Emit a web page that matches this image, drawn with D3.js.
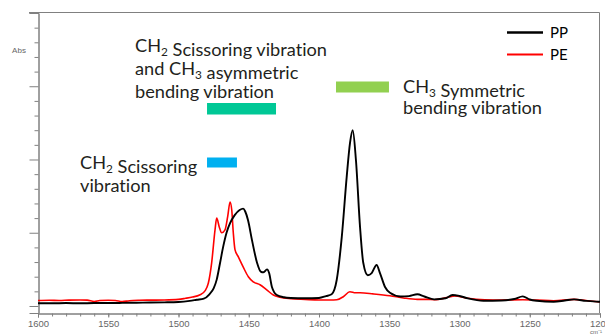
<!DOCTYPE html>
<html><head><meta charset="utf-8">
<script src="https://cdn.jsdelivr.net/npm/d3@7"></script>
<style>body{margin:0;background:#fff}svg{display:block}text{font-variant-ligatures:none;font-feature-settings:"liga" 0,"clig" 0}</style>
</head><body><svg id="c" width="605" height="334"></svg>
<script>
const ppWn = [1600,1590,1580,1570,1560,1550,1540,1530,1520,1510,1500,1492,1487,1482,1478,1475,1472.8,1470.5,1468.3,1465.8,1463.3,1460,1456.5,1454,1452.5,1450.5,1447.7,1444.1,1441.5,1439.5,1437,1435.5,1433.5,1430,1425,1420,1410,1400,1395,1391,1387.4,1383.8,1380.3,1377.9,1376,1373.7,1370.8,1368.5,1365.3,1362.5,1359,1356.6,1353,1349.5,1342,1336,1330,1325,1318,1310,1305,1300,1294,1283,1270,1261,1255,1250,1245,1233,1225,1218.5,1210,1201,1200];
const ppAbs = [0.037,0.037,0.04,0.037,0.04,0.04,0.042,0.045,0.048,0.05,0.055,0.07,0.085,0.1,0.16,0.24,0.36,0.58,0.8,1.0,1.13,1.24,1.31,1.33,1.29,1.17,0.9,0.59,0.47,0.46,0.5,0.45,0.26,0.15,0.12,0.11,0.105,0.11,0.135,0.16,0.355,0.94,1.76,2.23,2.4,1.99,1.08,0.59,0.42,0.45,0.56,0.45,0.26,0.18,0.13,0.135,0.16,0.13,0.09,0.105,0.15,0.137,0.105,0.072,0.076,0.095,0.132,0.089,0.072,0.059,0.075,0.09,0.07,0.059,0.059];
const peWn = [1600,1592,1585,1578,1570,1565,1560,1556,1550,1545,1540,1535,1528,1520,1510,1500,1495,1490,1485,1481,1478.8,1476.4,1474,1472.8,1471,1469.3,1466.9,1465,1463.3,1462.1,1461,1459.8,1457.4,1453.9,1450.3,1446.8,1442,1437.2,1432.5,1427.8,1420,1410,1400,1392,1387.4,1382.7,1378,1374,1370.8,1361.4,1349.5,1340,1330,1323,1318,1308,1303.5,1294,1282,1270,1255,1245,1233,1218.5,1210,1201,1200];
const peAbs = [0.075,0.078,0.075,0.08,0.082,0.08,0.062,0.075,0.078,0.075,0.06,0.072,0.078,0.08,0.082,0.09,0.105,0.123,0.15,0.21,0.31,0.59,1.04,1.2,1.08,1.0,1.04,1.22,1.42,1.31,1.0,0.77,0.67,0.53,0.4,0.33,0.29,0.22,0.15,0.12,0.1,0.09,0.082,0.082,0.085,0.127,0.195,0.18,0.18,0.165,0.14,0.11,0.09,0.09,0.086,0.119,0.137,0.105,0.086,0.082,0.086,0.082,0.072,0.09,0.075,0.059,0.059];
const xMajorTicks = [1600,1550,1500,1450,1400,1350,1300,1250,1200];
const seriesNames = ["PP","PE"];
const seriesColors = ["#000000","#ff0000"];
const bandWn = [[1479.7,1430.6],[1387.9,1350.2],[1479.7,1458.4]];
const bandColors = ["#00c896","#92d050","#00b0f0"];

const svg = d3.select("#c");
const x = d3.scaleLinear().domain([1600,1200]).range([38,600]);
const y = d3.scaleLinear().domain([-0.0956,4]).range([313,13]);
const axisCol = "#808080";

// frame top & right
svg.append("line").attr("x1",29).attr("x2",599.5).attr("y1",12.5).attr("y2",12.5).attr("stroke",axisCol);
svg.append("line").attr("x1",599.5).attr("x2",599.5).attr("y1",12.5).attr("y2",313).attr("stroke",axisCol);

// y axis
const yMajor = [0,1,2,3,4];
const yMinor = d3.range(0,4.001,0.2).filter(v=>Math.abs(v-Math.round(v))>0.01);
const gy = svg.append("g").attr("transform","translate(38.5,0)");
gy.call(d3.axisLeft(y).tickValues(yMinor).tickSize(4).tickFormat(""));
gy.append("g").call(d3.axisLeft(y).tickValues(yMajor).tickSize(9).tickFormat(""));
gy.selectAll("path,line").attr("stroke",axisCol);
svg.append("text").attr("x",19).attr("y",53).attr("text-anchor","middle")
  .attr("font-family","Liberation Sans, Arial, sans-serif").attr("font-size",8).attr("fill","#666").text("Abs");

// x axis
const gx = svg.append("g").attr("transform","translate(0,313.5)");
gx.call(d3.axisBottom(x).tickValues(d3.range(1600,1199,-10)).tickSize(3).tickFormat(""));
const gx2 = gx.append("g").call(d3.axisBottom(x).tickValues(xMajorTicks).tickSize(4).tickPadding(3).tickFormat(d3.format("d")));
gx.selectAll("path,line").attr("stroke",axisCol);
gx2.selectAll("text").attr("fill","#666").attr("font-family","Liberation Sans, Arial, sans-serif").attr("font-size",9.5);
svg.append("text").attr("x",590).attr("y",334).attr("font-family","Liberation Sans, Arial, sans-serif").attr("font-size",6).attr("fill","#666").text("cm⁻¹");

// curves
const line = d3.line().x(d=>x(d[0])).y(d=>y(d[1])).curve(d3.curveMonotoneX);
const pe = peWn.map((w,i)=>[w,peAbs[i]]);
const pp = ppWn.map((w,i)=>[w,ppAbs[i]]);
svg.append("path").attr("d",line(pe)).attr("fill","none").attr("stroke",seriesColors[1]).attr("stroke-width",1.6);
svg.append("path").attr("d",line(pp)).attr("fill","none").attr("stroke",seriesColors[0]).attr("stroke-width",1.9);

// legend
const legY = [32.5,54.5];
seriesNames.forEach((n,i)=>{
  svg.append("line").attr("x1",507).attr("x2",543).attr("y1",legY[i]).attr("y2",legY[i])
    .attr("stroke",seriesColors[i]).attr("stroke-width",i==0?2.6:2.2);
  svg.append("text").attr("x",550).attr("y",legY[i]+5.3).attr("font-family","Lato, sans-serif")
    .attr("font-size",15).attr("fill","#000").text(n);
});

// annotation bars
const barY = [103,81.5,157.5], barH = [11.5,11,10];
bandWn.forEach((b,i)=>{
  svg.append("rect").attr("x",x(b[0])).attr("width",x(b[1])-x(b[0])).attr("y",barY[i]).attr("height",barH[i]).attr("fill",bandColors[i]);
});

// annotation text
const fs = 18.2;
function label(xp, yp, parts){
  const t = svg.append("text").attr("x",xp).attr("y",yp).attr("font-family","Lato, sans-serif").attr("font-size",fs).attr("fill","#231f20");
  parts.forEach(p=>{
    if(p.sub){ t.append("tspan").attr("font-size",fs*0.65).attr("dy",4).text(p.sub); t.append("tspan").attr("dy",-4).text(""); }
    else t.append("tspan").text(p.t);
  });
}
label(135,52,[{t:"CH"},{sub:"2"},{t:" Scissoring vibration"}]);
label(135,75,[{t:"and CH"},{sub:"3"},{t:" asymmetric"}]);
label(135,98,[{t:"bending vibration"}]);
label(403,93,[{t:"CH"},{sub:"3"},{t:" Symmetric"}]);
label(403,113.5,[{t:"bending vibration"}]);
label(80,169,[{t:"CH"},{sub:"2"},{t:" Scissoring"}]);
label(80,191.5,[{t:"vibration"}]);
</script></body></html>
